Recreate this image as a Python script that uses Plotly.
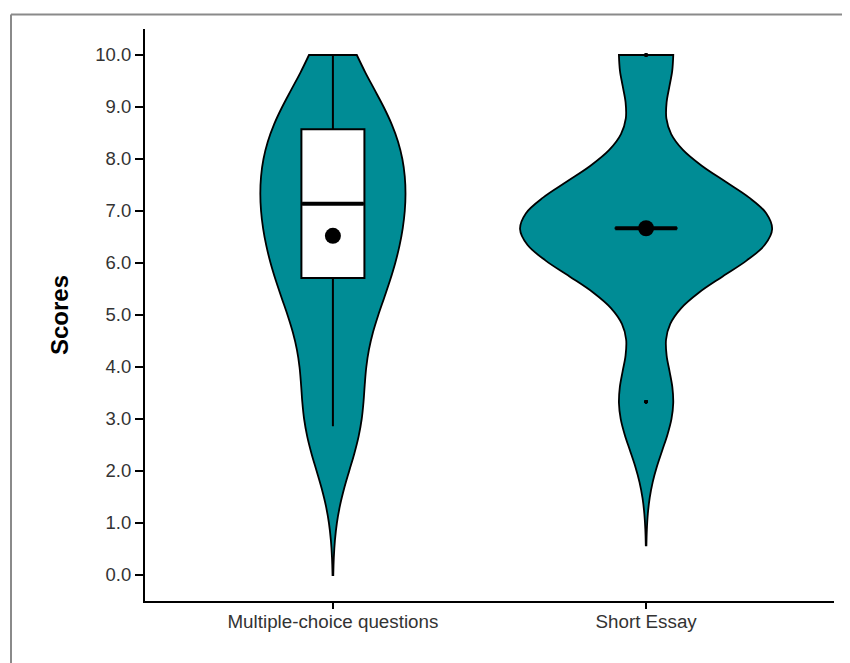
import numpy as np
import plotly.graph_objects as go

# ---- data ----
categories = ["Multiple-choice questions", "Short Essay"]
mc_scores = [2.86, 4.29, 5.71, 7.14, 8.57, 10.0]
mc_counts = [8, 5, 13, 16, 15, 3]
se_scores = [3.33, 6.67, 10.0]
se_counts = [9, 42, 9]
bandwidths = [1.0, 0.92]
y_limits = [0.0, 10.0]
y_ticks = [0, 1, 2, 3, 4, 5, 6, 7, 8, 9, 10]

mc = np.repeat(mc_scores, mc_counts)
se = np.repeat(se_scores, se_counts)
samples = [mc, se]

teal = "#008C95"
font_family = "Liberation Sans, Arial, sans-serif"
text_col = "#333333"

fig = go.Figure()
for cat, vals, bw in zip(categories, samples, bandwidths):
    span = [max(y_limits[0], vals.min() - 3 * bw), min(y_limits[1], vals.max() + 3 * bw)]
    fig.add_trace(go.Violin(
        x=[cat] * len(vals), y=vals, name=cat,
        bandwidth=bw, spanmode="manual", span=span,
        scalegroup="all", scalemode="width",
        fillcolor=teal, line=dict(color="black", width=1.8),
        points="outliers", pointpos=0, jitter=0,
        marker=dict(color="black", size=3.5, line=dict(width=0)),
        box=dict(visible=True, width=0.25, fillcolor="white",
                 line=dict(color="black", width=2)),
        meanline_visible=False, opacity=1,
    ))

# medians (thick bar) and means (dot)
fig.add_trace(go.Scatter(
    x=categories, y=[float(np.median(v)) for v in samples], mode="markers",
    marker=dict(symbol="line-ew", size=44, color="black",
                line=dict(width=4, color="black")),
    hoverinfo="skip"))
fig.add_trace(go.Scatter(
    x=categories, y=[float(np.mean(v)) for v in samples], mode="markers",
    marker=dict(size=16, color="black"), hoverinfo="skip"))

# page body has an 8px margin, so the figure is 842x655
W, H = 842, 655
ml, mr, mt, mb = 137, 16, 21, 62
pw, ph = W - ml - mr, H - mt - mb

def px_x(x):
    return (x - ml) / pw

def px_y(y):
    return 1 - (y - mt) / ph

fig.update_layout(
    width=W, height=H,
    margin=dict(l=ml, r=mr, t=mt, b=mb, pad=0),
    plot_bgcolor="white", paper_bgcolor="white",
    showlegend=False,
    violinmode="overlay", violingap=0.195, violingroupgap=0,
    font=dict(family=font_family, color=text_col),
    xaxis=dict(type="category", categoryorder="array", categoryarray=categories,
               range=[-0.6, 1.6], showline=True, linecolor="black", linewidth=2,
               ticks="outside", ticklen=6, tickwidth=2, tickcolor="black",
               ticklabelstandoff=-4,
               showgrid=False, zeroline=False, automargin=False,
               tickfont=dict(size=18.8, color=text_col, family=font_family)),
    yaxis=dict(range=[-0.5, 10.5], tickvals=y_ticks, tickformat=".1f",
               showline=True, linecolor="black", linewidth=2,
               ticks="outside", ticklen=8, tickwidth=2, tickcolor="black",
               showgrid=False, zeroline=False, automargin=False,
               tickfont=dict(size=18.5, color=text_col, family=font_family)),
    annotations=[dict(text="<b>Scores</b>", textangle=-90,
                      xref="paper", yref="paper", x=px_x(51), y=0.5,
                      xanchor="center", yanchor="middle", showarrow=False,
                      font=dict(size=24, color="black", family=font_family))],
    shapes=[
        dict(type="line", xref="paper", yref="paper",
             x0=px_x(3), x1=px_x(900), y0=px_y(6.5), y1=px_y(6.5),
             line=dict(color="#8a8a8a", width=2)),
        dict(type="line", xref="paper", yref="paper",
             x0=px_x(3), x1=px_x(3), y0=px_y(6.5), y1=px_y(700),
             line=dict(color="#8a8a8a", width=2)),
    ],
)

fig.write_html("out.html")
